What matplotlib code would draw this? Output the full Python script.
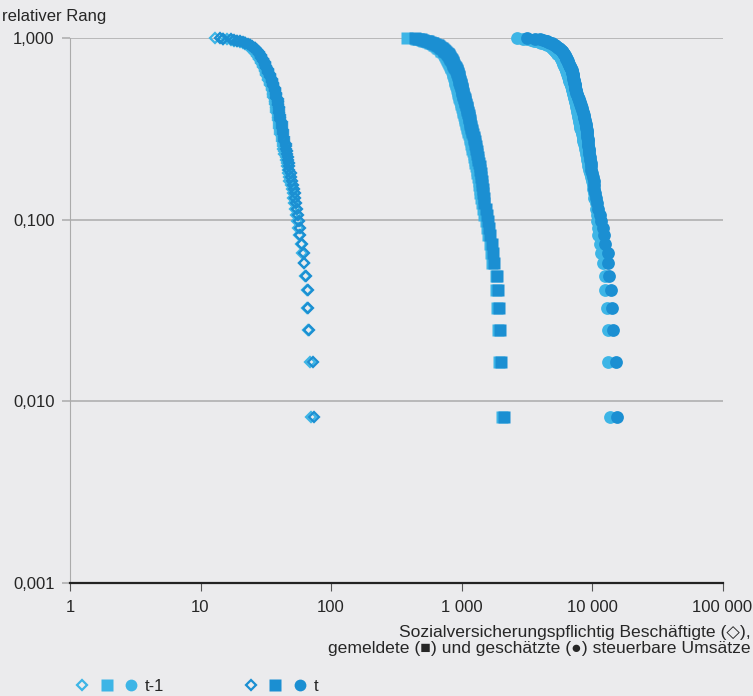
import numpy as np
import matplotlib
matplotlib.use('Agg')
import matplotlib.pyplot as plt
from matplotlib.legend_handler import HandlerTuple

plt.rcParams['font.family'] = ['Liberation Sans', 'DejaVu Sans']

# values sorted from largest (rank 1/N) to smallest (rank 1)
# Sozialversicherungspflichtig Beschaeftigte
emp_t1 = [70, 69, 67, 66, 65, 63, 62, 60, 59, 57,
          56, 55, 54, 53, 52, 51, 51, 50, 49, 48,
          48, 47, 47, 46, 46, 45, 45, 44, 44, 43,
          43, 43, 42, 42, 42, 41, 41, 41, 40, 40,
          40, 40, 39, 39, 39, 39, 39, 38, 38, 38,
          38, 38, 37, 37, 37, 37, 37, 36, 36, 36,
          36, 36, 35, 35, 35, 35, 34, 34, 34, 34,
          34, 33, 33, 33, 33, 32, 32, 32, 32, 31,
          31, 31, 31, 31, 30, 30, 30, 30, 29, 29,
          29, 29, 28, 28, 28, 28, 27, 27, 27, 27,
          26, 26, 26, 26, 25, 25, 25, 24, 24, 24,
          23, 23, 22, 22, 21, 20, 19, 18, 17, 16, 15, 13]
emp_t = [74, 73, 68, 67, 67, 64, 62, 62, 60, 58,
         58, 57, 56, 55, 54, 53, 53, 52, 51, 50,
         49, 49, 48, 48, 48, 47, 47, 46, 46, 45,
         45, 45, 44, 44, 44, 43, 43, 43, 42, 42,
         42, 42, 41, 41, 41, 41, 40, 40, 40, 40,
         40, 39, 39, 39, 39, 39, 38, 38, 38, 38,
         38, 37, 37, 37, 37, 36, 36, 36, 36, 35,
         35, 35, 35, 34, 34, 34, 34, 33, 33, 33,
         33, 33, 32, 32, 32, 32, 31, 31, 31, 31,
         30, 30, 30, 30, 29, 29, 29, 29, 28, 28,
         28, 28, 27, 27, 27, 26, 26, 26, 25, 25,
         24, 24, 23, 22, 22, 21, 20, 19, 18, 17, 15, 14]

# gemeldete steuerbare Umsaetze
rep_t1 = [2040, 1950, 1900, 1880, 1850, 1830, 1720, 1690, 1650, 1600,
          1560, 1530, 1500, 1460, 1430, 1410, 1395, 1380, 1365, 1350,
          1335, 1320, 1305, 1290, 1275, 1262, 1250, 1237, 1225, 1212,
          1200, 1188, 1176, 1164, 1152, 1141, 1130, 1119, 1108, 1097,
          1088, 1080, 1072, 1064, 1056, 1048, 1040, 1032, 1025, 1018,
          1011, 1004, 997, 990, 983, 976, 970, 964, 958, 952,
          947, 942, 937, 932, 927, 922, 917, 912, 907, 902,
          897, 892, 888, 884, 880, 876, 872, 868, 864, 860,
          855, 849, 843, 837, 831, 825, 819, 813, 807, 801,
          795, 789, 783, 777, 771, 765, 759, 753, 747, 741,
          731, 721, 711, 701, 691, 681, 671, 661, 651, 641,
          631, 620, 605, 590, 575, 558, 540, 520, 498, 475, 445, 380]
rep_t = [2100, 1990, 1960, 1950, 1890, 1880, 1790, 1750, 1710, 1660,
         1630, 1600, 1570, 1530, 1490, 1480, 1470, 1455, 1440, 1430,
         1415, 1405, 1390, 1375, 1360, 1347, 1335, 1322, 1310, 1297,
         1285, 1273, 1261, 1249, 1237, 1226, 1214, 1203, 1192, 1180,
         1172, 1164, 1156, 1148, 1140, 1132, 1124, 1116, 1109, 1101,
         1094, 1086, 1079, 1071, 1064, 1057, 1049, 1042, 1035, 1027,
         1022, 1016, 1011, 1006, 1000, 995, 990, 985, 979, 974,
         969, 964, 959, 954, 949, 944, 939, 934, 929, 924,
         917, 910, 903, 896, 889, 882, 875, 868, 861, 854,
         848, 841, 834, 828, 821, 815, 808, 802, 795, 788,
         776, 764, 752, 740, 728, 716, 705, 694, 683, 672,
         661, 649, 630, 610, 590, 570, 550, 530, 510, 490, 465, 440]

# geschaetzte steuerbare Umsaetze
est_t1 = [13735, 13260, 13200, 13030, 12580, 12500, 12140, 11620, 11600, 11120,
          11050, 10980, 10900, 10800, 10700, 10400, 10300, 10200, 10100, 9950,
          9800, 9650, 9500, 9320, 9238, 9157, 9076, 8996, 8917, 8838,
          8761, 8684, 8607, 8532, 8457, 8382, 8309, 8236, 8163, 8091,
          8043, 7996, 7949, 7903, 7856, 7810, 7764, 7719, 7674, 7629,
          7584, 7540, 7495, 7451, 7408, 7364, 7321, 7278, 7235, 7193,
          7150, 7106, 7062, 7018, 6974, 6931, 6888, 6845, 6803, 6760,
          6719, 6677, 6636, 6595, 6554, 6513, 6473, 6433, 6393, 6353,
          6314, 6275, 6236, 6197, 6159, 6121, 6083, 6045, 6008, 5970,
          5933, 5897, 5860, 5824, 5788, 5716, 5645, 5575, 5506, 5438,
          5370, 5304, 5238, 5173, 5109, 5045, 4983, 4921, 4860, 4800,
          4650, 4500, 4350, 4200, 4050, 3900, 3750, 3600, 3400, 3200, 2950, 2660]
est_t = [15550, 15280, 14480, 14230, 14100, 13500, 13260, 13200, 12580, 12360,
         12140, 11720, 11515, 11200, 10920, 10730, 10540, 10450, 10360, 10270,
         10180, 10000, 9910, 9820, 9740, 9650, 9600, 9550, 9500, 9450,
         9400, 9350, 9300, 9260, 9220, 9170, 9130, 9090, 9050, 9020,
         8995, 8916, 8838, 8760, 8684, 8608, 8532, 8458, 8384, 8310,
         8238, 8165, 8094, 8023, 7953, 7883, 7814, 7745, 7677, 7610,
         7541, 7513, 7485, 7457, 7430, 7402, 7375, 7347, 7320, 7293,
         7266, 7239, 7212, 7185, 7159, 7132, 7106, 7080, 7053, 7027,
         6978, 6929, 6880, 6832, 6784, 6736, 6689, 6642, 6595, 6549,
         6503, 6457, 6412, 6367, 6322, 6266, 6211, 6157, 6103, 6049,
         5996, 5943, 5891, 5839, 5788, 5687, 5587, 5490, 5394, 5299,
         5206, 5115, 5025, 4937, 4760, 4640, 4520, 4440, 4200, 4000, 3660, 3180]

x_ticks = [1, 10, 100, 1000, 10000, 100000]
x_ticklabels = ['1', '10', '100', '1 000', '10 000', '100 000']
y_ticks = [0.001, 0.01, 0.1, 1.0]
y_ticklabels = ['0,001', '0,010', '0,100', '1,000']

light = '#3db5e6'
dark = '#1b8fd2'
bg = '#ebebed'
grid_c = '#ababab'
text_c = '#262626'


def rel_rank(vals):
    n = len(vals)
    return np.arange(1, n + 1) / n


fig = plt.figure(figsize=(7.53, 6.96), dpi=100, facecolor=bg)
ax = fig.add_axes([70 / 753, 1 - 583 / 696, 652.5 / 753, 545 / 696])
ax.set_facecolor(bg)

series = [
    (emp_t1, 'D', light, 5.3), (emp_t, 'D', dark, 5.3),
    (rep_t1, 's', light, 8.6), (rep_t, 's', dark, 8.6),
    (est_t1, 'o', light, 9.2), (est_t, 'o', dark, 9.2),
]
for vals, m, c, ms in series:
    if m == 'D':
        ax.plot(vals, rel_rank(vals), ls='none', marker=m, ms=ms,
                mfc='none', mec=c, mew=1.6, clip_on=False, zorder=3)
    else:
        ax.plot(vals, rel_rank(vals), ls='none', marker=m, ms=ms,
                mfc=c, mec='none', clip_on=False, zorder=3)

ax.set_xscale('log')
ax.set_yscale('log')
ax.set_xlim(1, 100000)
ax.set_ylim(0.001, 1.0)
ax.set_xticks(x_ticks)
ax.set_xticklabels(x_ticklabels)
ax.set_yticks(y_ticks)
ax.set_yticklabels(y_ticklabels)
ax.xaxis.set_minor_locator(matplotlib.ticker.NullLocator())
ax.yaxis.set_minor_locator(matplotlib.ticker.NullLocator())

for s in ['top', 'right']:
    ax.spines[s].set_visible(False)
ax.spines['left'].set_color(grid_c)
ax.spines['left'].set_linewidth(0.8)
ax.spines['bottom'].set_color('#222222')
ax.spines['bottom'].set_linewidth(1.6)
ax.grid(True, axis='y', color=grid_c, lw=1.1)
ax.set_axisbelow(True)

ax.tick_params(axis='x', direction='out', length=6, width=0.8, color='#555555',
               labelsize=12, labelcolor=text_c, pad=6)
ax.tick_params(axis='y', direction='out', length=6, width=1.1, color=grid_c,
               labelsize=12, labelcolor=text_c, pad=5)
ax.yaxis.get_ticklines()[0].set_color('#222222')

fig.text(0.003, 0.966, 'relativer Rang', fontsize=12, color=text_c, va='bottom', ha='left')
fig.text(0.997, 0.102,
         'Sozialversicherungspflichtig Beschäftigte (◇),\n'
         'gemeldete (■) und geschätzte (●) steuerbare Umsätze',
         fontsize=12.6, color=text_c, ha='right', va='top', multialignment='right',
         linespacing=1.12)

mk = dict(ls='none', mew=1.6)
h1 = (plt.Line2D([], [], marker='D', ms=5, mfc='none', mec=light, **mk),
      plt.Line2D([], [], marker='s', ms=8, mfc=light, mec='none', ls='none'),
      plt.Line2D([], [], marker='o', ms=8.5, mfc=light, mec='none', ls='none'))
h2 = (plt.Line2D([], [], marker='D', ms=5, mfc='none', mec=dark, **mk),
      plt.Line2D([], [], marker='s', ms=8, mfc=dark, mec='none', ls='none'),
      plt.Line2D([], [], marker='o', ms=8.5, mfc=dark, mec='none', ls='none'))
fig.legend([h1, h2], ['t-1', 't'], handler_map={tuple: HandlerTuple(ndivide=None, pad=0.7)},
           loc='lower left', bbox_to_anchor=(0.081, -0.018), ncol=2, frameon=False,
           fontsize=12, labelcolor=text_c, handlelength=3.7, handletextpad=0.45,
           columnspacing=4.8)

fig.savefig('out.png', dpi=100, facecolor=bg)
